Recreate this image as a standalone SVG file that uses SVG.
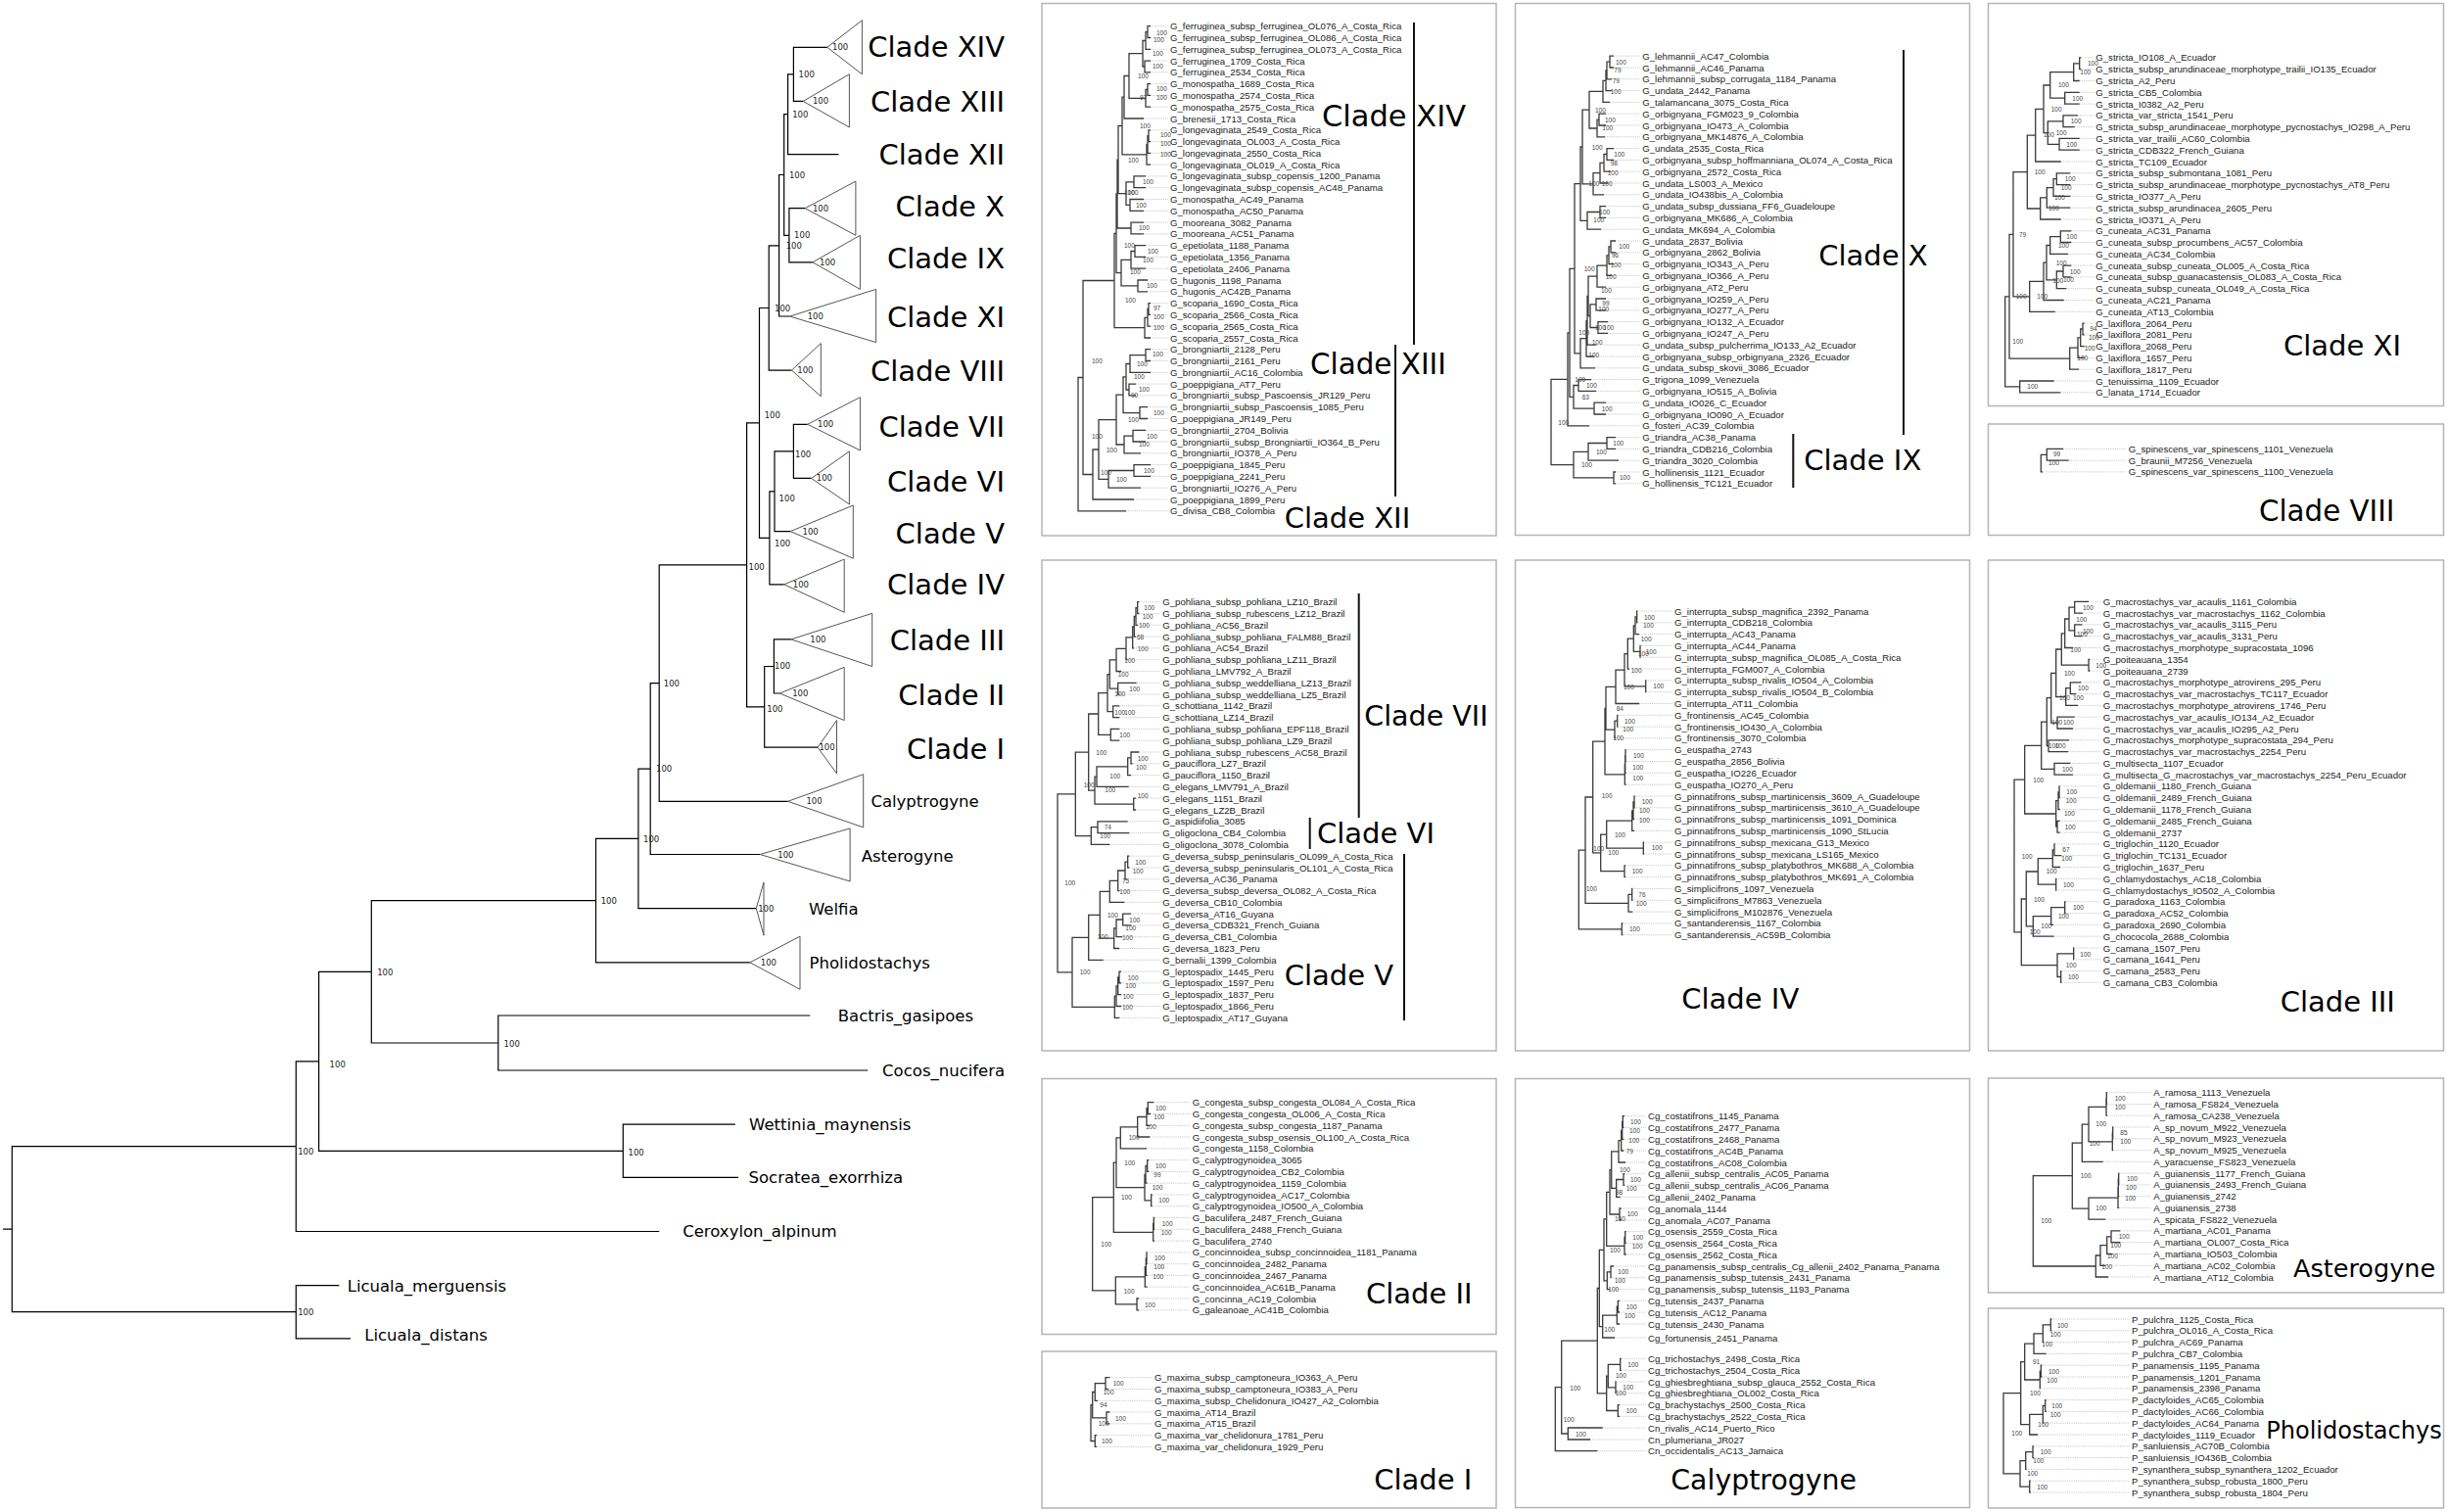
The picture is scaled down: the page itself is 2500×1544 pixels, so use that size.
<svg xmlns="http://www.w3.org/2000/svg" width="2500" height="1544" viewBox="0 0 2500 1544">
<style>
.t text{font-family:"Liberation Sans",Arial,sans-serif;font-size:9.6px;fill:#222;dominant-baseline:central}
.s text{font-family:"Liberation Sans",Arial,sans-serif;font-size:6.5px;fill:#444;dominant-baseline:central}
.c{font-family:"DejaVu Sans",sans-serif;fill:#000;dominant-baseline:central}
.m{font-family:"DejaVu Sans",sans-serif;font-size:16.5px;fill:#000;dominant-baseline:central}
.mc{font-family:"DejaVu Sans",sans-serif;font-size:29px;fill:#000;dominant-baseline:central;text-anchor:end}
.ms{font-family:"DejaVu Sans",sans-serif;font-size:8.5px;fill:#222;dominant-baseline:central}
.box{fill:none;stroke:#b5b5b5;stroke-width:1.5}
.br{fill:none;stroke:#3a3a3a;stroke-width:1.3}
.dot{fill:none;stroke:#b0b0b0;stroke-width:0.8;stroke-dasharray:1 1.2}
.bar{fill:none;stroke:#111;stroke-width:2}
.tri{fill:none;stroke:#555;stroke-width:1}
.mt{fill:none;stroke:#000;stroke-width:1.2}
</style>
<rect width="2500" height="1544" fill="#fff"/>

<g id="connectors">
<path class="mt" d="M844.8 48.3H810.4V103.4H820.2M810.4 75.9H804.6V157.6H856.4M822.1 212.7H805.9V267.8H829.9M804.6 116.7H800.7V240.3H805.9M800.7 178.5H795.6V323H806.6M795.6 250.8H785.2V378.1H808.5M824.7 433.3H810.4V488.4H828.6M810.4 460.9H791V542.6H807.2M791 501.8H785.9V596.8H800.7M785.2 314.5H775.5V549.3H785.9M807.9 652.9H790.4V708H796.2M790.4 680.5H780.7V763.2H835M775.5 431.9H762.6V721.9H780.7M762.6 576.9H673.2V818.3H804.6M673.2 697.6H664.2V872.5H776.2M664.2 785.1H651.9V927.6H772.3M651.9 856.4H608.5V982.8H765.8M827.3 1037H508.8V1093H886.2M608.5 919.6H379.3V1065H508.8M750.9 1148.2H636.3V1202.4H754.1M379.3 992.3H325.6V1175.3H636.3M325.6 1083.8H302.3V1257.5H673.2M346.3 1312.6H302.3V1366.8H358M302.3 1170.7H12.3V1339.7H302.3M3 1255.2H12.3"/>
<g class="ms">
<text x="815.6" y="75.8">100</text><text x="809.2" y="117.2">100</text><text x="805.9" y="179.2">100</text><text x="811.1" y="240.3">100</text><text x="802.7" y="251.1">100</text><text x="791" y="315">100</text><text x="780.7" y="424.4">100</text><text x="812" y="464">100</text><text x="795.6" y="509">100</text><text x="791" y="555.4">100</text><text x="764.5" y="579">100</text><text x="791" y="680.4">100</text><text x="783.3" y="723.8">100</text><text x="677.8" y="698.2">100</text><text x="670" y="784.8">100</text><text x="657" y="856.7">100</text><text x="613.7" y="919.7">100</text><text x="385.2" y="992.6">100</text><text x="514.6" y="1065.5">100</text><text x="336.6" y="1087.2">100</text><text x="641.5" y="1176.8">100</text><text x="304.2" y="1175.8">100</text><text x="304.2" y="1340.2">100</text>
</g>
</g>

<g id="tip-clade-xiv"><polygon class="tri" points="844.8,48.3 880.4,20.7 880.4,75.8"/><text class="ms" x="850" y="48.3">100</text><text class="mc" x="1026" y="48">Clade XIV</text></g>
<g id="tip-clade-xiii"><polygon class="tri" points="820.2,103.4 867.4,75.8 867.4,130"/><text class="ms" x="829.9" y="103.4">100</text><text class="mc" x="1026" y="104">Clade XIII</text></g>
<g id="tip-clade-xii"><text class="mc" x="1026" y="158">Clade XII</text></g>
<g id="tip-clade-x"><polygon class="tri" points="822.1,212.7 873.9,185.1 873.9,240.3"/><text class="ms" x="829.9" y="212.7">100</text><text class="mc" x="1026" y="211">Clade X</text></g>
<g id="tip-clade-ix"><polygon class="tri" points="829.9,267.8 878.4,240.3 878.4,295.4"/><text class="ms" x="837" y="267.8">100</text><text class="mc" x="1026" y="264">Clade IX</text></g>
<g id="tip-clade-xi"><polygon class="tri" points="806.6,323 894.6,295.4 894.6,349.6"/><text class="ms" x="824.7" y="323">100</text><text class="mc" x="1026" y="324">Clade XI</text></g>
<g id="tip-clade-viii"><polygon class="tri" points="808.5,378.1 838.3,350.6 838.3,404.7"/><text class="ms" x="814.3" y="378.1">100</text><text class="mc" x="1026" y="379">Clade VIII</text></g>
<g id="tip-clade-vii"><polygon class="tri" points="824.7,433.3 878.4,405.7 878.4,459.9"/><text class="ms" x="835" y="433.3">100</text><text class="mc" x="1026" y="436">Clade VII</text></g>
<g id="tip-clade-vi"><polygon class="tri" points="828.6,488.4 867.4,460.9 867.4,515"/><text class="ms" x="833.8" y="488.4">100</text><text class="mc" x="1026" y="492">Clade VI</text></g>
<g id="tip-clade-v"><polygon class="tri" points="807.2,542.6 871.3,516 871.3,570.2"/><text class="ms" x="819.5" y="542.6">100</text><text class="mc" x="1026" y="545">Clade V</text></g>
<g id="tip-clade-iv"><polygon class="tri" points="800.7,596.8 862.2,571.1 862.2,625.3"/><text class="ms" x="809.8" y="596.8">100</text><text class="mc" x="1026" y="597">Clade IV</text></g>
<g id="tip-clade-iii"><polygon class="tri" points="807.9,652.9 890.7,626.3 890.7,680.5"/><text class="ms" x="827.3" y="652.9">100</text><text class="mc" x="1026" y="654">Clade III</text></g>
<g id="tip-clade-ii"><polygon class="tri" points="796.2,708 862.2,681.4 862.2,735.6"/><text class="ms" x="809.2" y="708">100</text><text class="mc" x="1026" y="710">Clade II</text></g>
<g id="tip-clade-i"><polygon class="tri" points="835,763.2 854.5,735.6 854.5,789.8"/><text class="ms" x="836.4" y="763.2">100</text><text class="mc" x="1026" y="765">Clade I</text></g>
<g id="tip-calyptrogyne"><polygon class="tri" points="804.6,818.3 881.7,790.7 881.7,844.9"/><text class="ms" x="823.4" y="818.3">100</text><text class="m" x="889.4" y="818">Calyptrogyne</text></g>
<g id="tip-asterogyne"><polygon class="tri" points="776.2,872.5 868.1,845.9 868.1,900"/><text class="ms" x="794.3" y="872.5">100</text><text class="m" x="879.7" y="874">Asterogyne</text></g>
<g id="tip-welfia"><polygon class="tri" points="772.3,927.6 780,901 780,955.2"/><text class="ms" x="774.2" y="927.6">100</text><text class="m" x="826" y="928">Welfia</text></g>
<g id="tip-pholidostachys"><polygon class="tri" points="765.8,982.8 817,956.2 817,1010.3"/><text class="ms" x="776.8" y="982.8">100</text><text class="m" x="826.6" y="983">Pholidostachys</text></g>
<g id="tip-bactris"><text class="m" x="855.8" y="1037">Bactris_gasipoes</text></g>
<g id="tip-cocos"><text class="m" x="901.1" y="1093">Cocos_nucifera</text></g>
<g id="tip-wettinia"><text class="m" x="765.1" y="1148">Wettinia_maynensis</text></g>
<g id="tip-socratea"><text class="m" x="764.5" y="1202">Socratea_exorrhiza</text></g>
<g id="tip-ceroxylon"><text class="m" x="697.2" y="1257">Ceroxylon_alpinum</text></g>
<g id="tip-licuala-merguensis"><text class="m" x="354.7" y="1313">Licuala_merguensis</text></g>
<g id="tip-licuala-distans"><text class="m" x="372.2" y="1363">Licuala_distans</text></g>

<!-- Panel XIV / XIII / XII -->
<g id="panel-clade-xiv-xiii-xii">
<rect class="box" x="1064" y="3.5" width="464" height="543.5"/>
<path class="dot" d="M1175 26.7H1193M1175 38.5H1193M1175 50.3H1193M1175 62.1H1193M1175 73.8H1193M1175 85.6H1193M1175 97.4H1193M1175 109.2H1193M1168 121H1193M1175 132.8H1193M1175 144.6H1193M1175 156.3H1193M1175 168.1H1193M1170 179.9H1193M1170 191.7H1193M1168 203.5H1193M1168 215.3H1193M1168 227.1H1193M1168 238.9H1193M1170 250.6H1193M1170 262.4H1193M1170 274.2H1193M1172 286H1193M1172 297.8H1193M1175 309.6H1193M1175 321.4H1193M1175 333.2H1193M1175 345H1193M1175 356.7H1193M1175 368.5H1193M1175 380.3H1193M1160 392.1H1193M1160 403.9H1193M1172 415.7H1193M1172 427.5H1193M1170 439.3H1193M1170 451H1193M1165 462.8H1193M1175 474.6H1193M1175 486.4H1193M1165 498.2H1193M1158 510H1193M1150 521.8H1193"/>
<path class="br" d="M1175 26.7H1172V38.5H1175M1172 32.6H1170V50.3H1175M1175 62.1H1169V73.8H1175M1170 41.5H1167V68H1169M1175 85.6H1172V97.4H1175M1172 91.5H1170V109.2H1175M1167 54.7H1153V100.3H1170M1153 77.5H1148V121H1168M1175 132.8H1173V144.6H1175M1173 138.7H1172V156.3H1175M1172 147.5H1171V168.1H1175M1148 99.2H1146V157.8H1171M1170 179.9H1158V191.7H1170M1168 203.5H1154V215.3H1168M1158 185.8H1150V209.4H1154M1168 227.1H1155V238.9H1168M1170 250.6H1159V262.4H1170M1159 256.5H1155V274.2H1170M1172 286H1162V297.8H1172M1155 265.4H1145V291.9H1162M1175 309.6H1173V321.4H1175M1173 315.5H1172V333.2H1175M1172 324.4H1169V345H1175M1146 128.5H1142V197.6H1150M1142 163.1H1141V233H1155M1141 198H1140V278.7H1145M1140 238.4H1138V334.7H1169M1175 356.7H1170V368.5H1175M1170 362.6H1154V380.3H1175M1160 392.1H1153V403.9H1160M1154 371.5H1150V398H1153M1172 415.7H1164V427.5H1172M1150 384.8H1147V421.6H1164M1170 439.3H1157V451H1170M1157 445.2H1148V462.8H1165M1147 403.2H1140V454H1148M1175 474.6H1158V486.4H1175M1158 480.5H1132V498.2H1165M1140 428.6H1122V489.4H1132M1122 459H1116V510H1158M1138 286.5H1106V484.5H1116M1106 385.5H1101V521.8H1150"/>
<g class="t" transform="translate(1195 0)">
<text y="26.7">G_ferruginea_subsp_ferruginea_OL076_A_Costa_Rica</text>
<text y="38.5">G_ferruginea_subsp_ferruginea_OL086_A_Costa_Rica</text>
<text y="50.3">G_ferruginea_subsp_ferruginea_OL073_A_Costa_Rica</text>
<text y="62.1">G_ferruginea_1709_Costa_Rica</text>
<text y="73.8">G_ferruginea_2534_Costa_Rica</text>
<text y="85.6">G_monospatha_1689_Costa_Rica</text>
<text y="97.4">G_monospatha_2574_Costa_Rica</text>
<text y="109.2">G_monospatha_2575_Costa_Rica</text>
<text y="121">G_brenesii_1713_Costa_Rica</text>
<text y="132.8">G_longevaginata_2549_Costa_Rica</text>
<text y="144.6">G_longevaginata_OL003_A_Costa_Rica</text>
<text y="156.3">G_longevaginata_2550_Costa_Rica</text>
<text y="168.1">G_longevaginata_OL019_A_Costa_Rica</text>
<text y="179.9">G_longevaginata_subsp_copensis_1200_Panama</text>
<text y="191.7">G_longevaginata_subsp_copensis_AC48_Panama</text>
<text y="203.5">G_monospatha_AC49_Panama</text>
<text y="215.3">G_monospatha_AC50_Panama</text>
<text y="227.1">G_mooreana_3082_Panama</text>
<text y="238.9">G_mooreana_AC51_Panama</text>
<text y="250.6">G_epetiolata_1188_Panama</text>
<text y="262.4">G_epetiolata_1356_Panama</text>
<text y="274.2">G_epetiolata_2406_Panama</text>
<text y="286">G_hugonis_1198_Panama</text>
<text y="297.8">G_hugonis_AC42B_Panama</text>
<text y="309.6">G_scoparia_1690_Costa_Rica</text>
<text y="321.4">G_scoparia_2566_Costa_Rica</text>
<text y="333.2">G_scoparia_2565_Costa_Rica</text>
<text y="345">G_scoparia_2557_Costa_Rica</text>
<text y="356.7">G_brongniartii_2128_Peru</text>
<text y="368.5">G_brongniartii_2161_Peru</text>
<text y="380.3">G_brongniartii_AC16_Colombia</text>
<text y="392.1">G_poeppigiana_AT7_Peru</text>
<text y="403.9">G_brongniartii_subsp_Pascoensis_JR129_Peru</text>
<text y="415.7">G_brongniartii_subsp_Pascoensis_1085_Peru</text>
<text y="427.5">G_poeppigiana_JR149_Peru</text>
<text y="439.3">G_brongniartii_2704_Bolivia</text>
<text y="451">G_brongniartii_subsp_Brongniartii_IO364_B_Peru</text>
<text y="462.8">G_brongniartii_IO378_A_Peru</text>
<text y="474.6">G_poeppigiana_1845_Peru</text>
<text y="486.4">G_poeppigiana_2241_Peru</text>
<text y="498.2">G_brongniartii_IO276_A_Peru</text>
<text y="510">G_poeppigiana_1899_Peru</text>
<text y="521.8">G_divisa_CB8_Colombia</text>
</g>
<g class="s">
<text x="1181" y="33.3">100</text><text x="1178" y="40.7">100</text><text x="1177" y="54">100</text><text x="1177" y="67.3">100</text><text x="1162" y="77.3">100</text><text x="1181" y="90.7">100</text><text x="1181" y="99">100</text><text x="1164" y="99">97</text><text x="1164" y="128.3">100</text><text x="1185" y="137">100</text><text x="1185" y="146.7">100</text><text x="1185" y="157.3">100</text><text x="1152" y="163.3">100</text><text x="1167" y="185.3">100</text><text x="1148" y="196.7">100</text><text x="1151.5" y="196.7">100</text><text x="1160" y="209">100</text><text x="1163" y="232.7">100</text><text x="1148" y="250.7">100</text><text x="1172" y="256.7">100</text><text x="1167" y="265">100</text><text x="1154" y="277">100</text><text x="1171" y="291.7">100</text><text x="1149" y="306">100</text><text x="1178" y="314.3">97</text><text x="1178" y="323.3">100</text><text x="1178" y="334">100</text><text x="1115" y="368.7">100</text><text x="1177" y="361.7">100</text><text x="1161" y="371">100</text><text x="1158" y="384.3">100</text><text x="1163" y="397.7">100</text><text x="1155" y="403.3">90</text><text x="1178" y="421.3">100</text><text x="1152" y="428">100</text><text x="1115" y="445">100</text><text x="1171" y="445">100</text><text x="1163" y="453.7">100</text><text x="1130" y="459">100</text><text x="1168" y="480.3">100</text><text x="1140" y="489">100</text><text x="1124" y="482">100</text>
</g>
<path class="bar" d="M1444 23V352M1425 352V507"/>
<text class="c" font-size="30.5" x="1350" y="118">Clade XIV</text>
<text class="c" font-size="29.4" x="1338" y="372">Clade XIII</text>
<text class="c" font-size="29" x="1311.7" y="529">Clade XII</text>
</g>

<!-- Panel X / IX -->
<g id="panel-clade-x-ix">
<rect class="box" x="1547.5" y="3.5" width="464" height="543"/>
<path class="dot" d="M1648 57.2H1675M1648 69H1675M1646 80.8H1675M1646 92.6H1675M1644 104.4H1675M1640 116.2H1675M1640 128H1675M1639 139.8H1675M1648 151.6H1675M1648 163.4H1675M1645 175.2H1675M1642 187H1675M1638 198.8H1675M1640 210.6H1675M1640 222.4H1675M1635 234.2H1675M1650 246H1675M1650 257.8H1675M1648 269.6H1675M1646 281.4H1675M1640 293.2H1675M1640 305H1675M1640 316.8H1675M1642 328.6H1675M1642 340.4H1675M1630 352.2H1675M1628 364H1675M1629 375.8H1675M1625 387.6H1675M1630 399.4H1675M1640 411.2H1675M1640 423H1675M1623 434.8H1675M1650 446.6H1675M1650 458.4H1675M1653 470.2H1675M1650 482H1675M1650 493.8H1675"/>
<path class="br" d="M1648 57.2H1644V69H1648M1644 63.1H1641V80.8H1646M1641 72H1640V92.6H1646M1640 82.3H1637V104.4H1644M1640 116.2H1633V128H1640M1633 122.1H1631V139.8H1639M1637 93.4H1623V131H1631M1648 151.6H1641V163.4H1648M1641 157.5H1638V175.2H1645M1638 166.4H1634V187H1642M1634 176.7H1627V198.8H1638M1640 210.6H1634V222.4H1640M1634 216.5H1621V234.2H1635M1623 112.2H1616V187.8H1627M1616 150H1614V225.4H1621M1650 246H1645V257.8H1650M1645 251.9H1643V269.6H1648M1643 260.8H1641V281.4H1646M1641 271.1H1631V293.2H1640M1640 305H1630V316.8H1640M1642 328.6H1632V340.4H1642M1630 310.9H1624V334.5H1632M1631 282.2H1622V322.7H1624M1622 302.5H1621V352.2H1630M1621 327.4H1620V364H1628M1620 345.7H1614V375.8H1629M1614 187.7H1608V360.8H1614M1625 387.6H1612V399.4H1630M1640 411.2H1628V423H1640M1612 393.5H1607V417.1H1628M1608 274.3H1603V405.3H1607M1603 339.8H1601V434.8H1623M1650 446.6H1641V458.4H1650M1641 452.5H1622V470.2H1653M1650 482H1648V493.8H1650M1622 461.4H1607V487.9H1648M1601 387.3H1584V474.7H1607"/>
<g class="t" transform="translate(1677.3 0)">
<text y="57.2">G_lehmannii_AC47_Colombia</text>
<text y="69">G_lehmannii_AC46_Panama</text>
<text y="80.8">G_lehmannii_subsp_corrugata_1184_Panama</text>
<text y="92.6">G_undata_2442_Panama</text>
<text y="104.4">G_talamancana_3075_Costa_Rica</text>
<text y="116.2">G_orbignyana_FGM023_9_Colombia</text>
<text y="128">G_orbignyana_IO473_A_Colombia</text>
<text y="139.8">G_orbignyana_MK14876_A_Colombia</text>
<text y="151.6">G_undata_2535_Costa_Rica</text>
<text y="163.4">G_orbignyana_subsp_hoffmanniana_OL074_A_Costa_Rica</text>
<text y="175.2">G_orbignyana_2572_Costa_Rica</text>
<text y="187">G_undata_LS003_A_Mexico</text>
<text y="198.8">G_undata_IO438bis_A_Colombia</text>
<text y="210.6">G_undata_subsp_dussiana_FF6_Guadeloupe</text>
<text y="222.4">G_orbignyana_MK686_A_Colombia</text>
<text y="234.2">G_undata_MK694_A_Colombia</text>
<text y="246">G_undata_2837_Bolivia</text>
<text y="257.8">G_orbignyana_2862_Bolivia</text>
<text y="269.6">G_orbignyana_IO343_A_Peru</text>
<text y="281.4">G_orbignyana_IO366_A_Peru</text>
<text y="293.2">G_orbignyana_AT2_Peru</text>
<text y="305">G_orbignyana_IO259_A_Peru</text>
<text y="316.8">G_orbignyana_IO277_A_Peru</text>
<text y="328.6">G_orbignyana_IO132_A_Ecuador</text>
<text y="340.4">G_orbignyana_IO247_A_Peru</text>
<text y="352.2">G_undata_subsp_pulcherrima_IO133_A2_Ecuador</text>
<text y="364">G_orbignyana_subsp_orbignyana_2326_Ecuador</text>
<text y="375.8">G_undata_subsp_skovii_3086_Ecuador</text>
<text y="387.6">G_trigona_1099_Venezuela</text>
<text y="399.4">G_orbignyana_IO515_A_Bolivia</text>
<text y="411.2">G_undata_IO026_C_Ecuador</text>
<text y="423">G_orbignyana_IO090_A_Ecuador</text>
<text y="434.8">G_fosteri_AC39_Colombia</text>
<text y="446.6">G_triandra_AC38_Panama</text>
<text y="458.4">G_triandra_CDB216_Colombia</text>
<text y="470.2">G_triandra_3020_Colombia</text>
<text y="482">G_hollinensis_1121_Ecuador</text>
<text y="493.8">G_hollinensis_TC121_Ecuador</text>
</g>
<g class="s">
<text x="1650" y="63.1">100</text><text x="1648.3" y="71.9">79</text><text x="1646.7" y="82.4">79</text><text x="1644.7" y="93">100</text><text x="1629" y="112.2">100</text><text x="1639" y="122">100</text><text x="1636.3" y="130.8">100</text><text x="1625.7" y="150.1">100</text><text x="1648.3" y="157.1">100</text><text x="1644.7" y="166">98</text><text x="1641.7" y="176">100</text><text x="1622.3" y="187.6">100</text><text x="1635.7" y="187.6">100</text><text x="1633.3" y="216.4">100</text><text x="1627.3" y="224.8">100</text><text x="1653.3" y="251.5">100</text><text x="1645.7" y="260.6">96</text><text x="1644.7" y="270.8">100</text><text x="1617.7" y="274.6">100</text><text x="1639.7" y="282.4">100</text><text x="1635" y="296.4">100</text><text x="1636.3" y="309.7">99</text><text x="1632.3" y="315.7">100</text><text x="1629" y="334.3">100</text><text x="1637.3" y="334.3">100</text><text x="1612.3" y="339.5">100</text><text x="1625.7" y="349">100</text><text x="1622.3" y="362.3">100</text><text x="1608.3" y="387.2">100</text><text x="1620" y="393.5">100</text><text x="1615.7" y="405.1">63</text><text x="1635.7" y="417.4">100</text><text x="1591.3" y="431.4">100</text><text x="1647.3" y="452.5">100</text><text x="1630" y="461.2">100</text><text x="1615" y="474.6">100</text><text x="1654" y="487.5">100</text>
</g>
<path class="bar" d="M1944 51V444M1831.3 443V498"/>
<text class="c" font-size="29" x="1857.3" y="261">Clade X</text>
<text class="c" font-size="29" x="1842.3" y="470">Clade IX</text>
</g>

<!-- Panel XI -->
<g id="panel-clade-xi">
<rect class="box" x="2030.5" y="3.5" width="465" height="411"/>
<path class="dot" d="M2125.3 58.9H2138M2125 70.7H2138M2123.7 82.5H2138M2123.7 94.3H2138M2123.7 106.1H2138M2122 117.9H2138M2118.7 129.6H2138M2123.7 141.4H2138M2123.7 153.2H2138M2104.7 165H2138M2114.3 176.8H2138M2114.3 188.6H2138M2114.3 200.4H2138M2114.3 212.2H2138M2104.7 224H2138M2115.3 235.8H2138M2115.3 247.5H2138M2112 259.3H2138M2115.3 271.1H2138M2115.3 282.9H2138M2110.3 294.7H2138M2107.7 306.5H2138M2098.7 318.3H2138M2128.7 330.1H2138M2128.7 341.9H2138M2128.7 353.7H2138M2128.7 365.4H2138M2123 377.2H2138M2097.7 389H2138M2104.3 400.8H2138"/>
<path class="br" d="M2125.3 58.9H2123.7V70.7H2125M2123.7 64.8H2117.7V82.5H2123.7M2123.7 94.3H2108.7V106.1H2123.7M2117.7 73.7H2093.7V100.2H2108.7M2122 117.9H2107V129.6H2118.7M2123.7 141.4H2103V153.2H2123.7M2107 123.8H2091.3V147.3H2103M2093.7 87H2087V135.6H2091.3M2087 111.3H2078.7V165H2104.7M2114.3 176.8H2100.3V188.6H2114.3M2100.3 182.7H2097V200.4H2114.3M2097 191.6H2090.3V212.2H2114.3M2090.3 201.9H2083.7V224H2104.7M2078.7 138.2H2070.3V213H2083.7M2115.3 235.8H2104.3V247.5H2115.3M2104.3 241.7H2093.7V259.3H2112M2115.3 271.1H2107V282.9H2115.3M2107 277H2100.3V294.7H2110.3M2093.7 250.5H2090V285.9H2100.3M2090 268.2H2087V306.5H2107.7M2087 287.4H2072.7V318.3H2098.7M2070.3 175.6H2056V302.9H2072.7M2128.7 330.1H2127V341.9H2128.7M2127 336H2124.7V353.7H2128.7M2124.7 344.9H2122V365.4H2128.7M2122 355.2H2113.7V377.2H2123M2056 239.3H2052V366.2H2113.7M2097.7 389H2062.7V400.8H2104.3M2052 302.8H2047.7V394.9H2062.7"/>
<g class="t" transform="translate(2140.3 0)">
<text y="58.9">G_stricta_IO108_A_Ecuador</text>
<text y="70.7">G_stricta_subsp_arundinaceae_morphotype_trailii_IO135_Ecuador</text>
<text y="82.5">G_stricta_A2_Peru</text>
<text y="94.3">G_stricta_CB5_Colombia</text>
<text y="106.1">G_stricta_I0382_A2_Peru</text>
<text y="117.9">G_stricta_var_stricta_1541_Peru</text>
<text y="129.6">G_stricta_subsp_arundinaceae_morphotype_pycnostachys_IO298_A_Peru</text>
<text y="141.4">G_stricta_var_trailii_AC60_Colombia</text>
<text y="153.2">G_stricta_CDB322_French_Guiana</text>
<text y="165">G_stricta_TC109_Ecuador</text>
<text y="176.8">G_stricta_subsp_submontana_1081_Peru</text>
<text y="188.6">G_stricta_subsp_arundinaceae_morphotype_pycnostachys_AT8_Peru</text>
<text y="200.4">G_stricta_IO377_A_Peru</text>
<text y="212.2">G_stricta_subsp_arundinacea_2605_Peru</text>
<text y="224">G_stricta_IO371_A_Peru</text>
<text y="235.8">G_cuneata_AC31_Panama</text>
<text y="247.5">G_cuneata_subsp_procumbens_AC57_Colombia</text>
<text y="259.3">G_cuneata_AC34_Colombia</text>
<text y="271.1">G_cuneata_subsp_cuneata_OL005_A_Costa_Rica</text>
<text y="282.9">G_cuneata_subsp_guanacastensis_OL083_A_Costa_Rica</text>
<text y="294.7">G_cuneata_subsp_cuneata_OL049_A_Costa_Rica</text>
<text y="306.5">G_cuneata_AC21_Panama</text>
<text y="318.3">G_cuneata_AT13_Colombia</text>
<text y="330.1">G_laxiflora_2064_Peru</text>
<text y="341.9">G_laxiflora_2081_Peru</text>
<text y="353.7">G_laxiflora_2068_Peru</text>
<text y="365.4">G_laxiflora_1657_Peru</text>
<text y="377.2">G_laxiflora_1817_Peru</text>
<text y="389">G_tenuissima_1109_Ecuador</text>
<text y="400.8">G_lanata_1714_Ecuador</text>
</g>
<g class="s">
<text x="2132" y="64.2">100</text><text x="2124.3" y="73.7">100</text><text x="2102" y="86.6">100</text><text x="2116.3" y="100">100</text><text x="2094.7" y="111.2">100</text><text x="2114.7" y="123.5">100</text><text x="2099.7" y="135">100</text><text x="2087" y="137.8">100</text><text x="2110.3" y="147.3">100</text><text x="2077.7" y="175.4">100</text><text x="2108.7" y="182.4">100</text><text x="2104.7" y="191.2">100</text><text x="2098" y="201.7">100</text><text x="2092" y="212.9">100</text><text x="2062" y="239.2">79</text><text x="2110.3" y="241.3">100</text><text x="2102" y="250.1">100</text><text x="2099.7" y="268.3">100</text><text x="2113.7" y="277.1">100</text><text x="2107" y="285.9">100</text><text x="2096.3" y="286.9">100</text><text x="2058.7" y="302.3">100</text><text x="2080.3" y="302.3">100</text><text x="2134.3" y="335.7">94</text><text x="2133" y="344.4">100</text><text x="2128.7" y="355">100</text><text x="2121.3" y="365.8">100</text><text x="2055.3" y="348.3">100</text><text x="2070.3" y="394.6">100</text>
</g>
<text class="c" font-size="29" x="2332" y="352.5">Clade XI</text>
</g>

<!-- Panel VIII -->
<g id="panel-clade-viii">
<rect class="box" x="2030.5" y="433" width="465" height="113.5"/>
<path class="dot" d="M2107 458.4H2171M2112.7 470.2H2171M2086 481.9H2171"/>
<path class="br" d="M2107 458.4H2090.3V470.2H2112.7M2090.3 464.3H2084.3V481.9H2086"/>
<g class="t" transform="translate(2173.7 0)">
<text y="458.4">G_spinescens_var_spinescens_1101_Venezuela</text>
<text y="470.2">G_braunii_M7256_Venezuela</text>
<text y="481.9">G_spinescens_var_spinescens_1100_Venezuela</text>
</g>
<g class="s"><text x="2097" y="463.7">99</text><text x="2092" y="472.8">100</text></g>
<text class="c" font-size="29.3" x="2307" y="522">Clade VIII</text>
</g>

<!-- Panel VII / VI / V -->
<g id="panel-clade-vii-vi-v">
<rect class="box" x="1064" y="572" width="464" height="501"/>
<path class="dot" d="M1163.3 614.7H1185M1163.3 626.5H1185M1162 638.3H1185M1160 650.1H1185M1158 661.9H1185M1151.7 673.7H1185M1145 685.5H1185M1160.7 697.3H1185M1143.3 709.1H1185M1143.3 720.8H1185M1143.3 732.6H1185M1143.3 744.4H1185M1143.3 756.2H1185M1163.3 768H1185M1156.7 779.8H1185M1155 791.6H1185M1152.7 803.4H1185M1160 815.2H1185M1160 827H1185M1151.7 838.8H1185M1153.3 850.6H1185M1133.3 862.4H1185M1153.3 874.2H1185M1153.3 886H1185M1150 897.8H1185M1143.3 909.6H1185M1148.3 921.3H1185M1155 933.1H1185M1155 944.9H1185M1146 956.7H1185M1143 968.5H1185M1126.7 980.3H1185M1145 992.1H1185M1145 1003.9H1185M1145 1015.7H1185M1145 1027.5H1185M1143.3 1039.3H1185"/>
<path class="br" d="M1163.3 614.7H1161.7V626.5H1163.3M1161.7 620.6H1160V638.3H1162M1160 629.5H1158.3V650.1H1160M1158.3 639.8H1156.7V661.9H1158M1156.7 650.9H1150V673.7H1151.7M1150 662.3H1140V685.5H1145M1160.7 697.3H1141.7V709.1H1143.3M1143.3 720.8H1136.7V732.6H1143.3M1140 673.9H1133.3V703.2H1141.7M1133.3 688.6H1131V726.7H1136.7M1143.3 744.4H1134.3V756.2H1143.3M1131 707.7H1121.7V750.3H1134.3M1163.3 768H1155V779.8H1156.7M1155 773.9H1151.7V791.6H1155M1151.7 782.8H1120V803.4H1152.7M1160 815.2H1157.7V827H1160M1120 793.1H1118V821.1H1157.7M1121.7 729H1111.7V807.1H1118M1151.7 838.8H1121V850.6H1153.3M1121 844.7H1114.3V862.4H1133.3M1111.7 768.1H1098.3V853.6H1114.3M1153.3 874.2H1151.7V886H1153.3M1151.7 880.1H1149V897.8H1150M1149 889H1141.7V909.6H1143.3M1141.7 899.3H1133.3V921.3H1148.3M1155 933.1H1146.7V944.9H1155M1146.7 939H1140V956.7H1146M1140 947.9H1137.7V968.5H1143M1133.3 910.3H1123.3V958.2H1137.7M1123.3 934.3H1111.7V980.3H1126.7M1145 992.1H1143V1003.9H1145M1143 998H1141.7V1015.7H1145M1141.7 1006.9H1140V1027.5H1145M1140 1017.2H1138.3V1039.3H1143.3M1111.7 957.3H1095V1028.3H1138.3M1098.3 810.9H1080V992.8H1095"/>
<g class="t" transform="translate(1187.3 0)">
<text y="614.7">G_pohliana_subsp_pohliana_LZ10_Brazil</text>
<text y="626.5">G_pohliana_subsp_rubescens_LZ12_Brazil</text>
<text y="638.3">G_pohliana_AC56_Brazil</text>
<text y="650.1">G_pohliana_subsp_pohliana_FALM88_Brazil</text>
<text y="661.9">G_pohliana_AC54_Brazil</text>
<text y="673.7">G_pohliana_subsp_pohliana_LZ11_Brazil</text>
<text y="685.5">G_pohliana_LMV792_A_Brazil</text>
<text y="697.3">G_pohliana_subsp_weddelliana_LZ13_Brazil</text>
<text y="709.1">G_pohliana_subsp_weddelliana_LZ5_Brazil</text>
<text y="720.8">G_schottiana_1142_Brazil</text>
<text y="732.6">G_schottiana_LZ14_Brazil</text>
<text y="744.4">G_pohliana_subsp_pohliana_EPF118_Brazil</text>
<text y="756.2">G_pohliana_subsp_pohliana_LZ9_Brazil</text>
<text y="768">G_pohliana_subsp_rubescens_AC58_Brazil</text>
<text y="779.8">G_pauciflora_LZ7_Brazil</text>
<text y="791.6">G_pauciflora_1150_Brazil</text>
<text y="803.4">G_elegans_LMV791_A_Brazil</text>
<text y="815.2">G_elegans_1151_Brazil</text>
<text y="827">G_elegans_LZ2B_Brazil</text>
<text y="838.8">G_aspidiifolia_3085</text>
<text y="850.6">G_oligoclona_CB4_Colombia</text>
<text y="862.4">G_oligoclona_3078_Colombia</text>
<text y="874.2">G_deversa_subsp_peninsularis_OL099_A_Costa_Rica</text>
<text y="886">G_deversa_subsp_peninsularis_OL101_A_Costa_Rica</text>
<text y="897.8">G_deversa_AC36_Panama</text>
<text y="909.6">G_deversa_subsp_deversa_OL082_A_Costa_Rica</text>
<text y="921.3">G_deversa_CB10_Colombia</text>
<text y="933.1">G_deversa_AT16_Guyana</text>
<text y="944.9">G_deversa_CDB321_French_Guiana</text>
<text y="956.7">G_deversa_CB1_Colombia</text>
<text y="968.5">G_deversa_1823_Peru</text>
<text y="980.3">G_bernalii_1399_Colombia</text>
<text y="992.1">G_leptospadix_1445_Peru</text>
<text y="1003.9">G_leptospadix_1597_Peru</text>
<text y="1015.7">G_leptospadix_1837_Peru</text>
<text y="1027.5">G_leptospadix_1866_Peru</text>
<text y="1039.3">G_leptospadix_AT17_Guyana</text>
</g>
<g class="s">
<text x="1168.3" y="620.7">100</text><text x="1166.7" y="629">100</text><text x="1163" y="638.7">100</text><text x="1161" y="650.3">68</text><text x="1161.7" y="662.3">100</text><text x="1148.3" y="674">100</text><text x="1141.7" y="688">100</text><text x="1153.3" y="703">100</text><text x="1138.3" y="708">100</text><text x="1148.3" y="727.3">100</text><text x="1138.3" y="727.3">100</text><text x="1143.3" y="750.3">100</text><text x="1119.3" y="768">100</text><text x="1161.7" y="774">100</text><text x="1160" y="783">100</text><text x="1133.3" y="792">100</text><text x="1106.7" y="801.3">100</text><text x="1128.3" y="806.3">100</text><text x="1161.7" y="812.3">100</text><text x="1127.7" y="844.3">74</text><text x="1123.3" y="853.3">100</text><text x="1159.3" y="880">100</text><text x="1156.7" y="889">100</text><text x="1146" y="899.3">75</text><text x="1143.3" y="910">100</text><text x="1087.3" y="901.7">100</text><text x="1131" y="934.3">100</text><text x="1153.3" y="939">100</text><text x="1149.3" y="947.7">100</text><text x="1120.7" y="956.7">100</text><text x="1146" y="957.7">100</text><text x="1102.7" y="992.7">100</text><text x="1151.7" y="998.3">100</text><text x="1149.3" y="1006.7">100</text><text x="1146.7" y="1017.3">100</text><text x="1146" y="1028.3">100</text>
</g>
<path class="bar" d="M1387.7 606V835M1337.7 835V867M1434 872V1042"/>
<text class="c" font-size="28.5" x="1393.3" y="731">Clade VII</text>
<text class="c" font-size="29" x="1345" y="851">Clade VI</text>
<text class="c" font-size="29" x="1311.7" y="996">Clade V</text>
</g>

<!-- Panel IV -->
<g id="panel-clade-iv">
<rect class="box" x="1547.5" y="572" width="464" height="501"/>
<path class="dot" d="M1672.3 624H1708M1672.3 635.8H1708M1674 647.6H1708M1675.7 659.4H1708M1675.7 671.2H1708M1664 683.1H1708M1681.3 694.9H1708M1681.3 706.7H1708M1674 718.5H1708M1652.3 730.3H1708M1652.3 742.1H1708M1650 753.9H1708M1660.7 765.7H1708M1660.7 777.5H1708M1660.7 789.3H1708M1660.7 801.2H1708M1669.5 813H1708M1669.5 824.8H1708M1669 836.6H1708M1669 848.4H1708M1679 860.2H1708M1679 872H1708M1660 883.8H1708M1660 895.6H1708M1667.3 907.4H1708M1667.3 919.3H1708M1667.3 931.1H1708M1657.3 942.9H1708M1657.3 954.7H1708"/>
<path class="br" d="M1672.3 624H1671.7V635.8H1672.3M1671.7 629.9H1670V647.6H1674M1675.7 659.4H1675V671.2H1675.7M1670 638.8H1668.3V665.3H1675M1668.3 652.1H1662.3V683.1H1664M1681.3 694.9H1680.7V706.7H1681.3M1662.3 667.6H1659V700.8H1680.7M1659 684.2H1650V718.5H1674M1652.3 730.3H1651.7V742.1H1652.3M1651.7 736.2H1649V753.9H1650M1650 701.4H1640V745.1H1649M1660.7 765.7H1660V777.5H1660.7M1660 771.6H1659.7V789.3H1660.7M1659.7 780.5H1659.3V801.2H1660.7M1640 723.3H1639V790.9H1659.3M1669.5 813H1669V824.8H1669.5M1669 818.9H1668V836.6H1669M1668 827.8H1666.7V848.4H1669M1679 860.2H1678.3V872H1679M1666.7 838.1H1640.7V866.1H1678.3M1660 883.8H1659V895.6H1660M1640.7 852.1H1634.7V889.7H1659M1639 757.1H1626.7V870.9H1634.7M1667.3 907.4H1666.7V919.3H1667.3M1666.7 913.4H1663V931.1H1667.3M1626.7 814H1619V922.3H1663M1657.3 942.9H1656.3V954.7H1657.3M1619 868.2H1612.3V948.8H1656.3"/>
<g class="t" transform="translate(1710 0)">
<text y="624">G_interrupta_subsp_magnifica_2392_Panama</text>
<text y="635.8">G_interrupta_CDB218_Colombia</text>
<text y="647.6">G_interrupta_AC43_Panama</text>
<text y="659.4">G_interrupta_AC44_Panama</text>
<text y="671.2">G_interrupta_subsp_magnifica_OL085_A_Costa_Rica</text>
<text y="683.1">G_interrupta_FGM007_A_Colombia</text>
<text y="694.9">G_interrupta_subsp_rivalis_IO504_A_Colombia</text>
<text y="706.7">G_interrupta_subsp_rivalis_IO504_B_Colombia</text>
<text y="718.5">G_interrupta_AT11_Colombia</text>
<text y="730.3">G_frontinensis_AC45_Colombia</text>
<text y="742.1">G_frontinensis_IO430_A_Colombia</text>
<text y="753.9">G_frontinensis_3070_Colombia</text>
<text y="765.7">G_euspatha_2743</text>
<text y="777.5">G_euspatha_2856_Bolivia</text>
<text y="789.3">G_euspatha_IO226_Ecuador</text>
<text y="801.2">G_euspatha_IO270_A_Peru</text>
<text y="813">G_pinnatifrons_subsp_martinicensis_3609_A_Guadeloupe</text>
<text y="824.8">G_pinnatifrons_subsp_martinicensis_3610_A_Guadeloupe</text>
<text y="836.6">G_pinnatifrons_subsp_martinicensis_1091_Dominica</text>
<text y="848.4">G_pinnatifrons_subsp_martinicensis_1090_StLucia</text>
<text y="860.2">G_pinnatifrons_subsp_mexicana_G13_Mexico</text>
<text y="872">G_pinnatifrons_subsp_mexicana_LS165_Mexico</text>
<text y="883.8">G_pinnatifrons_subsp_platybothros_MK688_A_Colombia</text>
<text y="895.6">G_pinnatifrons_subsp_platybothros_MK691_A_Colombia</text>
<text y="907.4">G_simplicifrons_1097_Venezuela</text>
<text y="919.3">G_simplicifrons_M7863_Venezuela</text>
<text y="931.1">G_simplicifrons_M102876_Venezuela</text>
<text y="942.9">G_santanderensis_1167_Colombia</text>
<text y="954.7">G_santanderensis_AC59B_Colombia</text>
</g>
<g class="s">
<text x="1679" y="630">100</text><text x="1678" y="638.7">100</text><text x="1675.7" y="652">100</text><text x="1680.7" y="665.3">100</text><text x="1673" y="667.3">100</text><text x="1665.7" y="684">100</text><text x="1688.3" y="700.7">100</text><text x="1658" y="701.3">100</text><text x="1650.7" y="723">84</text><text x="1659" y="736.3">100</text><text x="1657.3" y="744.7">100</text><text x="1647.3" y="753">100</text><text x="1668" y="771.3">100</text><text x="1667.3" y="783">100</text><text x="1667.3" y="794.7">100</text><text x="1635.7" y="812">100</text><text x="1676.7" y="818.7">100</text><text x="1674" y="827.3">100</text><text x="1674" y="837.3">100</text><text x="1686.7" y="865.7">100</text><text x="1649" y="852">100</text><text x="1627.3" y="866.3">100</text><text x="1642.3" y="870.7">100</text><text x="1666.7" y="889">100</text><text x="1673.3" y="913">76</text><text x="1670.7" y="922">100</text><text x="1620" y="907.3">100</text><text x="1664" y="948">100</text>
</g>
<text class="c" font-size="29" x="1717.3" y="1020">Clade IV</text>
</g>

<!-- Panel III -->
<g id="panel-clade-iii">
<rect class="box" x="2030.5" y="572" width="465" height="501"/>
<path class="dot" d="M2133 614.3H2145.5M2127 626.1H2145.5M2126.3 637.9H2145.5M2126.3 649.7H2145.5M2117 661.5H2145.5M2134.3 673.3H2145.5M2134.3 685H2145.5M2125.3 696.8H2145.5M2120.3 708.6H2145.5M2122 720.4H2145.5M2118.7 732.2H2145.5M2117 744H2145.5M2113 755.8H2145.5M2112 767.6H2145.5M2114.3 779.4H2145.5M2117 791.2H2145.5M2103.7 802.9H2145.5M2103.7 814.7H2145.5M2103.7 826.5H2145.5M2103.7 838.3H2145.5M2103.7 850.1H2145.5M2098.7 861.9H2145.5M2105.3 873.7H2145.5M2104 885.5H2145.5M2100.3 897.3H2145.5M2100.3 909.1H2145.5M2109.7 920.8H2145.5M2109.7 932.6H2145.5M2097 944.4H2145.5M2097.7 956.2H2145.5M2118 968H2145.5M2118 979.8H2145.5M2105.3 991.6H2145.5M2105.3 1003.4H2145.5"/>
<path class="br" d="M2133 614.3H2118.7V626.1H2127M2126.3 637.9H2118.7V649.7H2126.3M2118.7 620.2H2113V643.8H2118.7M2113 632H2108.7V661.5H2117M2134.3 673.3H2133V685H2134.3M2108.7 646.8H2105.3V679.2H2133M2125.3 696.8H2114.3V708.6H2120.3M2114.3 702.7H2109.7V720.4H2122M2105.3 663H2099.7V711.6H2109.7M2118.7 732.2H2101V744H2117M2099.7 687.3H2094.7V738.1H2101M2113 755.8H2092V767.6H2112M2094.7 712.7H2090.3V761.7H2092M2114.3 779.4H2098V791.2H2117M2090.3 737.2H2084.7V785.3H2098M2103.7 802.9H2103V814.7H2103.7M2103 808.8H2102V826.5H2103.7M2103.7 838.3H2101V850.1H2103.7M2102 817.7H2099.7V844.2H2101M2084.7 761.3H2067.7V831H2099.7M2098.7 861.9H2098V873.7H2105.3M2098 867.8H2096.3V885.5H2104M2100.3 897.3H2099.7V909.1H2100.3M2096.3 876.7H2081.3V903.2H2099.7M2109.7 920.8H2108.7V932.6H2109.7M2108.7 926.7H2094.7V944.4H2097M2094.7 935.6H2076.3V956.2H2097.7M2081.3 890H2069.3V945.9H2076.3M2118 968H2117.7V979.8H2118M2105.3 991.6H2104.7V1003.4H2105.3M2117.7 973.9H2101V997.5H2104.7M2069.3 918H2064.3V985.7H2101M2067.7 796.2H2057V951.9H2064.3"/>
<g class="t" transform="translate(2147.7 0)">
<text y="614.3">G_macrostachys_var_acaulis_1161_Colombia</text>
<text y="626.1">G_macrostachys_var_macrostachys_1162_Colombia</text>
<text y="637.9">G_macrostachys_var_acaulis_3115_Peru</text>
<text y="649.7">G_macrostachys_var_acaulis_3131_Peru</text>
<text y="661.5">G_macrostachys_morphotype_supracostata_1096</text>
<text y="673.3">G_poiteauana_1354</text>
<text y="685">G_poiteauana_2739</text>
<text y="696.8">G_macrostachys_morphotype_atrovirens_295_Peru</text>
<text y="708.6">G_macrostachys_var_macrostachys_TC117_Ecuador</text>
<text y="720.4">G_macrostachys_morphotype_atrovirens_1746_Peru</text>
<text y="732.2">G_macrostachys_var_acaulis_IO134_A2_Ecuador</text>
<text y="744">G_macrostachys_var_acaulis_IO295_A2_Peru</text>
<text y="755.8">G_macrostachys_morphotype_supracostata_294_Peru</text>
<text y="767.6">G_macrostachys_var_macrostachys_2254_Peru</text>
<text y="779.4">G_multisecta_1107_Ecuador</text>
<text y="791.2">G_multisecta_G_macrostachys_var_macrostachys_2254_Peru_Ecuador</text>
<text y="802.9">G_oldemanii_1180_French_Guiana</text>
<text y="814.7">G_oldemanii_2489_French_Guiana</text>
<text y="826.5">G_oldemanii_1178_French_Guiana</text>
<text y="838.3">G_oldemanii_2485_French_Guiana</text>
<text y="850.1">G_oldemanii_2737</text>
<text y="861.9">G_triglochin_1120_Ecuador</text>
<text y="873.7">G_triglochin_TC131_Ecuador</text>
<text y="885.5">G_triglochin_1637_Peru</text>
<text y="897.3">G_chlamydostachys_AC18_Colombia</text>
<text y="909.1">G_chlamydostachys_IO502_A_Colombia</text>
<text y="920.8">G_paradoxa_1163_Colombia</text>
<text y="932.6">G_paradoxa_AC52_Colombia</text>
<text y="944.4">G_paradoxa_2690_Colombia</text>
<text y="956.2">G_chococola_2688_Colombia</text>
<text y="968">G_camana_1507_Peru</text>
<text y="979.8">G_camana_1641_Peru</text>
<text y="991.6">G_camana_2583_Peru</text>
<text y="1003.4">G_camana_CB3_Colombia</text>
</g>
<g class="s">
<text x="2127" y="620.3">100</text><text x="2120.3" y="632">100</text><text x="2127" y="644">100</text><text x="2121" y="647">100</text><text x="2114.3" y="663">100</text><text x="2140.3" y="679.2">100</text><text x="2108" y="687">100</text><text x="2122" y="702.3">100</text><text x="2117" y="712">100</text><text x="2103" y="712">100</text><text x="2107" y="737.3">100</text><text x="2095.3" y="737.3">100</text><text x="2098.7" y="761.3">100</text><text x="2092" y="761.3">100</text><text x="2106" y="785.3">100</text><text x="2076.3" y="796.3">100</text><text x="2110.3" y="808.7">100</text><text x="2109.7" y="817.3">100</text><text x="2108" y="830.7">100</text><text x="2108.7" y="844">100</text><text x="2106.3" y="867.3">67</text><text x="2105.3" y="876.3">100</text><text x="2064.7" y="874">100</text><text x="2089.7" y="889.7">100</text><text x="2107" y="903">100</text><text x="2077" y="918">100</text><text x="2117" y="926.7">100</text><text x="2102" y="935.7">100</text><text x="2084.3" y="945.7">100</text><text x="2072.7" y="951.3">100</text><text x="2124.3" y="974">100</text><text x="2109.7" y="985.3">100</text><text x="2112" y="997.3">100</text>
</g>
<text class="c" font-size="29" x="2328.7" y="1023">Clade III</text>
</g>

<!-- Panel II -->
<g id="panel-clade-ii">
<rect class="box" x="1064" y="1101.5" width="464" height="261"/>
<path class="dot" d="M1178.3 1125.7H1215.5M1175 1137.5H1215.5M1174.3 1149.3H1215.5M1174.3 1161H1215.5M1171 1172.8H1215.5M1173.3 1184.6H1215.5M1173.3 1196.4H1215.5M1171.7 1208.2H1215.5M1176.7 1220H1215.5M1176.7 1231.7H1215.5M1179 1243.5H1215.5M1179 1255.3H1215.5M1179 1267.1H1215.5M1171.7 1278.9H1215.5M1171.7 1290.7H1215.5M1171.7 1302.4H1215.5M1171.7 1314.2H1215.5M1163 1326H1215.5M1163 1337.8H1215.5"/>
<path class="br" d="M1178.3 1125.7H1172.3V1137.5H1175M1172.3 1131.6H1171V1149.3H1174.3M1171 1140.5H1161.7V1161H1174.3M1161.7 1150.8H1144.3V1172.8H1171M1173.3 1184.6H1171.7V1196.4H1173.3M1171.7 1190.5H1170V1208.2H1171.7M1176.7 1220H1175.7V1231.7H1176.7M1170 1199.4H1169V1225.9H1175.7M1144.3 1161.8H1140V1212.6H1169M1179 1243.5H1178.3V1255.3H1179M1178.3 1249.4H1177.7V1267.1H1179M1140 1187.2H1137.3V1258.3H1177.7M1171.7 1278.9H1171V1290.7H1171.7M1171 1284.8H1170.3V1302.4H1171.7M1170.3 1293.6H1169.3V1314.2H1171.7M1163 1326H1161V1337.8H1163M1169.3 1303.9H1139.3V1331.9H1161M1137.3 1222.7H1115.7V1317.9H1139.3"/>
<g class="t" transform="translate(1217.7 0)">
<text y="1125.7">G_congesta_subsp_congesta_OL084_A_Costa_Rica</text>
<text y="1137.5">G_congesta_congesta_OL006_A_Costa_Rica</text>
<text y="1149.3">G_congesta_subsp_congesta_1187_Panama</text>
<text y="1161">G_congesta_subsp_osensis_OL100_A_Costa_Rica</text>
<text y="1172.8">G_congesta_1158_Colombia</text>
<text y="1184.6">G_calyptrogynoidea_3065</text>
<text y="1196.4">G_calyptrogynoidea_CB2_Colombia</text>
<text y="1208.2">G_calyptrogynoidea_1159_Colombia</text>
<text y="1220">G_calyptrogynoidea_AC17_Colombia</text>
<text y="1231.7">G_calyptrogynoidea_IO500_A_Colombia</text>
<text y="1243.5">G_baculifera_2487_French_Guiana</text>
<text y="1255.3">G_baculifera_2488_French_Guiana</text>
<text y="1267.1">G_baculifera_2740</text>
<text y="1278.9">G_concinnoidea_subsp_concinnoidea_1181_Panama</text>
<text y="1290.7">G_concinnoidea_2482_Panama</text>
<text y="1302.4">G_concinnoidea_2467_Panama</text>
<text y="1314.2">G_concinnoidea_AC61B_Panama</text>
<text y="1326">G_concinna_AC19_Colombia</text>
<text y="1337.8">G_galeanoae_AC41B_Colombia</text>
</g>
<g class="s">
<text x="1180" y="1131.3">100</text><text x="1178.3" y="1140.3">100</text><text x="1170" y="1150.3">100</text><text x="1152.7" y="1161.3">100</text><text x="1180" y="1190">100</text><text x="1178.3" y="1199">99</text><text x="1148.3" y="1187">100</text><text x="1176.7" y="1212.3">100</text><text x="1145" y="1222.3">100</text><text x="1183.3" y="1225.7">100</text><text x="1186.7" y="1249">100</text><text x="1185.7" y="1258">100</text><text x="1124.3" y="1270.3">100</text><text x="1179" y="1284.7">100</text><text x="1178.3" y="1293.7">100</text><text x="1177.3" y="1303.7">100</text><text x="1147.7" y="1318">100</text><text x="1169" y="1332">100</text>
</g>
<text class="c" font-size="29" x="1395" y="1321">Clade II</text>
</g>

<!-- Panel I -->
<g id="panel-clade-i">
<rect class="box" x="1064" y="1380" width="464" height="160"/>
<path class="dot" d="M1133.3 1406.7H1177M1131.7 1418.5H1177M1121 1430.3H1177M1133.3 1442H1177M1133.3 1453.8H1177M1120 1465.6H1177M1120 1477.4H1177"/>
<path class="br" d="M1133.3 1406.7H1129V1418.5H1131.7M1129 1412.6H1118.3V1430.3H1121M1133.3 1442H1130V1453.8H1133.3M1118.3 1421.5H1115.7V1447.9H1130M1120 1465.6H1118.3V1477.4H1120M1115.7 1434.7H1114V1471.5H1118.3"/>
<g class="t" transform="translate(1179 0)">
<text y="1406.7">G_maxima_subsp_camptoneura_IO363_A_Peru</text>
<text y="1418.5">G_maxima_subsp_camptoneura_IO383_A_Peru</text>
<text y="1430.3">G_maxima_subsp_Chelidonura_IO427_A2_Colombia</text>
<text y="1442">G_maxima_AT14_Brazil</text>
<text y="1453.8">G_maxima_AT15_Brazil</text>
<text y="1465.6">G_maxima_var_chelidonura_1781_Peru</text>
<text y="1477.4">G_maxima_var_chelidonura_1929_Peru</text>
</g>
<g class="s">
<text x="1136.7" y="1412.3">100</text><text x="1126.7" y="1421.3">100</text><text x="1123.3" y="1434.7">94</text><text x="1139" y="1448">100</text><text x="1121.7" y="1453">100</text><text x="1125" y="1471.3">100</text>
</g>
<text class="c" font-size="29" x="1403.3" y="1511">Clade I</text>
</g>

<!-- Panel Calyptrogyne -->
<g id="panel-calyptrogyne">
<rect class="box" x="1547.5" y="1101.5" width="464" height="438"/>
<path class="dot" d="M1659 1139.7H1681M1658.3 1151.3H1681M1658.3 1163.3H1681M1658.3 1175H1681M1660 1187H1681M1659 1198.7H1681M1659 1210.3H1681M1654.7 1222.3H1681M1655.7 1234H1681M1655.7 1246H1681M1660.7 1257.7H1681M1660.7 1269.3H1681M1660.7 1281H1681M1648 1293H1681M1645.7 1304.7H1681M1644 1316.7H1681M1654 1328.3H1681M1654 1340H1681M1654 1352H1681M1649 1366H1681M1655.7 1387.3H1681M1655.7 1399.3H1681M1650.7 1411H1681M1650.7 1422.7H1681M1654 1434.7H1681M1654 1446.3H1681M1636.7 1458H1681M1624 1470H1681M1631.3 1481.7H1681"/>
<path class="br" d="M1659 1139.7H1657.3V1151.3H1658.3M1657.3 1145.5H1656.7V1163.3H1658.3M1656.7 1154.4H1655.7V1175H1658.3M1655.7 1164.7H1653V1187H1660M1659 1198.7H1658V1210.3H1659M1658 1204.5H1650.7V1222.3H1654.7M1653 1175.9H1645.7V1213.4H1650.7M1655.7 1234H1654V1246H1655.7M1645.7 1194.7H1644V1240H1654M1660.7 1257.7H1659.7V1269.3H1660.7M1659.7 1263.5H1659V1281H1660.7M1644 1217.4H1640.7V1272.3H1659M1648 1293H1645V1304.7H1645.7M1645 1298.9H1641.3V1316.7H1644M1640.7 1244.9H1638V1307.8H1641.3M1654 1328.3H1652.3V1340H1654M1652.3 1334.2H1651.3V1352H1654M1651.3 1343.1H1636.7V1366H1649M1638 1276.4H1633.3V1354.6H1636.7M1655.7 1387.3H1654.7V1399.3H1655.7M1650.7 1411H1650V1422.7H1650.7M1654.7 1393.3H1642.3V1416.9H1650M1654 1434.7H1652.3V1446.3H1654M1642.3 1405.1H1640.7V1440.5H1652.3M1633.3 1315.5H1631.3V1422.8H1640.7M1636.7 1458H1601.3V1470H1624M1631.3 1369.2H1594.7V1464H1601.3M1594.7 1416.6H1588.3V1481.7H1631.3"/>
<g class="t" transform="translate(1683 0)">
<text y="1139.7">Cg_costatifrons_1145_Panama</text>
<text y="1151.3">Cg_costatifrons_2477_Panama</text>
<text y="1163.3">Cg_costatifrons_2468_Panama</text>
<text y="1175">Cg_costatifrons_AC4B_Panama</text>
<text y="1187">Cg_costatifrons_AC08_Colombia</text>
<text y="1198.7">Cg_allenii_subsp_centralis_AC05_Panama</text>
<text y="1210.3">Cg_allenii_subsp_centralis_AC06_Panama</text>
<text y="1222.3">Cg_allenii_2402_Panama</text>
<text y="1234">Cg_anomala_1144</text>
<text y="1246">Cg_anomala_AC07_Panama</text>
<text y="1257.7">Cg_osensis_2559_Costa_Rica</text>
<text y="1269.3">Cg_osensis_2564_Costa_Rica</text>
<text y="1281">Cg_osensis_2562_Costa_Rica</text>
<text y="1293">Cg_panamensis_subsp_centralis_Cg_allenii_2402_Panama_Panama</text>
<text y="1304.7">Cg_panamensis_subsp_tutensis_2431_Panama</text>
<text y="1316.7">Cg_panamensis_subsp_tutensis_1193_Panama</text>
<text y="1328.3">Cg_tutensis_2437_Panama</text>
<text y="1340">Cg_tutensis_AC12_Panama</text>
<text y="1352">Cg_tutensis_2430_Panama</text>
<text y="1366">Cg_fortunensis_2451_Panama</text>
<text y="1387.3">Cg_trichostachys_2498_Costa_Rica</text>
<text y="1399.3">Cg_trichostachys_2504_Costa_Rica</text>
<text y="1411">Cg_ghiesbreghtiana_subsp_glauca_2552_Costa_Rica</text>
<text y="1422.7">Cg_ghiesbreghtiana_OL002_Costa_Rica</text>
<text y="1434.7">Cg_brachystachys_2500_Costa_Rica</text>
<text y="1446.3">Cg_brachystachys_2522_Costa_Rica</text>
<text y="1458">Cn_rivalis_AC14_Puerto_Rico</text>
<text y="1470">Cn_plumeriana_JR027</text>
<text y="1481.7">Cn_occidentalis_AC13_Jamaica</text>
</g>
<g class="s">
<text x="1665" y="1145.3">100</text><text x="1664" y="1154">100</text><text x="1663.3" y="1164">100</text><text x="1660.7" y="1175.7">79</text><text x="1654" y="1194">100</text><text x="1665" y="1204">100</text><text x="1660.7" y="1213">100</text><text x="1650" y="1217">98</text><text x="1661.7" y="1239.7">100</text><text x="1649" y="1244.7">100</text><text x="1667.3" y="1263">100</text><text x="1666.7" y="1272">100</text><text x="1644" y="1276.3">100</text><text x="1652.3" y="1298.7">100</text><text x="1649" y="1307.3">100</text><text x="1642.3" y="1316.3">100</text><text x="1660.7" y="1334">100</text><text x="1659" y="1343">100</text><text x="1638.3" y="1357.3">100</text><text x="1662.3" y="1393">100</text><text x="1650" y="1404.7">100</text><text x="1657.3" y="1416.3">100</text><text x="1649.7" y="1422">100</text><text x="1603.3" y="1417">100</text><text x="1660.7" y="1440.3">100</text><text x="1596.7" y="1449">100</text><text x="1609" y="1464">100</text>
</g>
<text class="c" font-size="28.4" x="1706.3" y="1511">Calyptrogyne</text>
</g>

<!-- Panel Asterogyne -->
<g id="panel-asterogyne">
<rect class="box" x="2030.5" y="1101" width="465" height="219"/>
<path class="dot" d="M2152 1115.7H2197M2152 1127.5H2197M2152 1139.2H2197M2158 1151H2197M2158 1162.8H2197M2158 1174.6H2197M2147.7 1186.3H2197M2164 1198.1H2197M2164 1209.9H2197M2164 1221.6H2197M2164 1233.4H2197M2150.3 1245.2H2197M2165.3 1256.9H2197M2165.3 1268.7H2197M2157 1280.5H2197M2150 1292.3H2197M2153 1304H2197"/>
<path class="br" d="M2152 1115.7H2151.3V1127.5H2152M2151.3 1121.6H2151V1139.2H2152M2158 1151H2157.7V1162.8H2158M2157.7 1156.9H2157.3V1174.6H2158M2151 1130.4H2133V1165.8H2157.3M2133 1148.1H2126.3V1186.3H2147.7M2164 1198.1H2163.7V1209.9H2164M2163.7 1204H2163.3V1221.6H2164M2163.3 1212.8H2163V1233.4H2164M2163 1223.1H2133V1245.2H2150.3M2126.3 1167.2H2116.3V1234.2H2133M2165.3 1256.9H2156V1268.7H2165.3M2156 1262.8H2151.7V1280.5H2157M2151.7 1271.7H2145V1292.3H2150M2145 1282H2140.3V1304H2153M2116.3 1200.7H2076.3V1293H2140.3"/>
<g class="t" transform="translate(2199.3 0)">
<text y="1115.7">A_ramosa_1113_Venezuela</text>
<text y="1127.5">A_ramosa_FS824_Venezuela</text>
<text y="1139.2">A_ramosa_CA238_Venezuela</text>
<text y="1151">A_sp_novum_M922_Venezuela</text>
<text y="1162.8">A_sp_novum_M923_Venezuela</text>
<text y="1174.6">A_sp_novum_M925_Venezuela</text>
<text y="1186.3">A_yaracuense_FS823_Venezuela</text>
<text y="1198.1">A_guianensis_1177_French_Guiana</text>
<text y="1209.9">A_guianensis_2493_French_Guiana</text>
<text y="1221.6">A_guianensis_2742</text>
<text y="1233.4">A_guianensis_2738</text>
<text y="1245.2">A_spicata_FS822_Venezuela</text>
<text y="1256.9">A_martiana_AC01_Panama</text>
<text y="1268.7">A_martiana_OL007_Costa_Rica</text>
<text y="1280.5">A_martiana_IO503_Colombia</text>
<text y="1292.3">A_martiana_AC02_Colombia</text>
<text y="1304">A_martiana_AT12_Colombia</text>
</g>
<g class="s">
<text x="2159.7" y="1121.3">100</text><text x="2159.7" y="1130.3">100</text><text x="2140.3" y="1147.3">100</text><text x="2165.3" y="1156.3">85</text><text x="2165.3" y="1165.3">100</text><text x="2133.7" y="1167">100</text><text x="2124.7" y="1200.3">100</text><text x="2172" y="1203.7">100</text><text x="2171" y="1212.3">100</text><text x="2170.3" y="1223">100</text><text x="2140.3" y="1233.7">100</text><text x="2084.3" y="1246.7">100</text><text x="2163.7" y="1262.3">100</text><text x="2155.3" y="1271.3">100</text><text x="2152" y="1282">100</text><text x="2146.3" y="1293">100</text>
</g>
<text class="c" font-size="25.5" x="2342" y="1295">Asterogyne</text>
</g>

<!-- Panel Pholidostachys -->
<g id="panel-pholidostachys">
<rect class="box" x="2030.5" y="1336" width="465" height="204"/>
<path class="dot" d="M2095.3 1347H2175M2095.3 1358.8H2175M2087 1370.6H2175M2089.7 1382.4H2175M2085.3 1394.2H2175M2085.3 1406H2175M2083.7 1417.8H2175M2089.7 1429.6H2175M2089.7 1441.4H2175M2087 1453.2H2175M2081 1465H2175M2077 1476.8H2175M2077 1488.6H2175M2069.7 1500.4H2175M2073.7 1512.2H2175M2073.7 1524H2175"/>
<path class="br" d="M2095.3 1347H2094.3V1358.8H2095.3M2094.3 1352.9H2086.3V1370.6H2087M2086.3 1361.8H2077V1382.4H2089.7M2085.3 1394.2H2084.3V1406H2085.3M2084.3 1400.1H2083.3V1417.8H2083.7M2077 1372.1H2067.7V1409H2083.3M2089.7 1429.6H2088.7V1441.4H2089.7M2088.7 1435.5H2086.3V1453.2H2087M2086.3 1444.4H2072.7V1465H2081M2067.7 1390.6H2063.7V1454.7H2072.7M2077 1476.8H2076V1488.6H2077M2076 1482.7H2068.7V1500.4H2069.7M2073.7 1512.2H2072.7V1524H2073.7M2068.7 1491.6H2063V1518.1H2072.7M2063.7 1422.7H2046V1504.9H2063"/>
<g class="t" transform="translate(2177 0)">
<text y="1347">P_pulchra_1125_Costa_Rica</text>
<text y="1358.8">P_pulchra_OL016_A_Costa_Rica</text>
<text y="1370.6">P_pulchra_AC69_Panama</text>
<text y="1382.4">P_pulchra_CB7_Colombia</text>
<text y="1394.2">P_panamensis_1195_Panama</text>
<text y="1406">P_panamensis_1201_Panama</text>
<text y="1417.8">P_panamensis_2398_Panama</text>
<text y="1429.6">P_dactyloides_AC65_Colombia</text>
<text y="1441.4">P_dactyloides_AC66_Colombia</text>
<text y="1453.2">P_dactyloides_AC64_Panama</text>
<text y="1465">P_dactyloides_1119_Ecuador</text>
<text y="1476.8">P_sanluiensis_AC70B_Colombia</text>
<text y="1488.6">P_sanluiensis_IO436B_Colombia</text>
<text y="1500.4">P_synanthera_subsp_synanthera_1202_Ecuador</text>
<text y="1512.2">P_synanthera_subsp_robusta_1800_Peru</text>
<text y="1524">P_synanthera_subsp_robusta_1804_Peru</text>
</g>
<g class="s">
<text x="2101" y="1353">100</text><text x="2093.7" y="1362">100</text><text x="2085.3" y="1372">100</text><text x="2076" y="1390.7">91</text><text x="2092" y="1400">100</text><text x="2090.3" y="1409">100</text><text x="2073" y="1422">100</text><text x="2095.3" y="1435.3">100</text><text x="2093.7" y="1444">100</text><text x="2081.3" y="1454.7">100</text><text x="2054.3" y="1463.7">100</text><text x="2083.7" y="1482.3">100</text><text x="2076.3" y="1491.3">100</text><text x="2070.3" y="1504.7">100</text><text x="2080.3" y="1518">100</text>
</g>
<text class="c" font-size="24" x="2314.3" y="1461">Pholidostachys</text>
</g>
</svg>
